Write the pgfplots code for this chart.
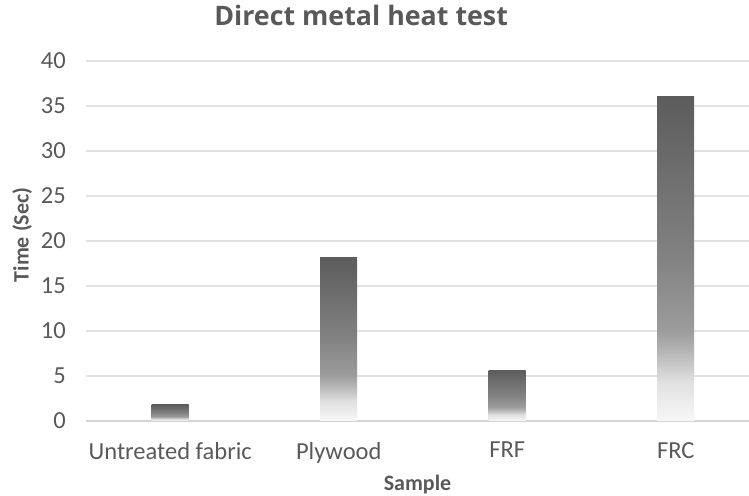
\documentclass[border=0pt]{standalone}
\usepackage{pgfplots}
\pgfplotsset{compat=1.18}
\usepackage{fontspec}
\setmainfont{Carlito}
\newfontfamily\titlefont{Open Sans}
\definecolor{txt}{HTML}{595959}
\definecolor{gridc}{HTML}{E2E2E2}
\definecolor{basec}{HTML}{D4D4D4}
% bar fill: dark at the top, fading to white at the bottom
\pgfdeclareverticalshading{barfade}{100bp}{%
  rgb(0bp)=(0.97,0.97,0.97); rgb(25bp)=(0.97,0.97,0.97);
  rgb(31bp)=(0.88,0.88,0.88); rgb(36bp)=(0.70,0.70,0.70);
  rgb(39bp)=(0.61,0.61,0.61); rgb(50bp)=(0.51,0.51,0.51);
  rgb(75bp)=(0.36,0.36,0.36); rgb(100bp)=(0.36,0.36,0.36)}
\begin{document}
\begin{tikzpicture}
\useasboundingbox (0,0) rectangle (749pt,495pt);
\begin{axis}[
    at={(86pt,74pt)}, anchor=south west,
    scale only axis,
    width=663pt, height=360pt,
    ybar, bar width=37pt,
    xmin=-0.5, xmax=3.435,
    ymin=0, ymax=40,
    ytick={0,5,...,40},
    xtick={0,1,2,3},
    xticklabels={Untreated fabric, Plywood, FRF, FRC},
    major tick length=0pt,
    axis x line*=bottom, axis y line*=left,
    x axis line style={draw=basec, line width=1.3pt},
    y axis line style={draw=none},
    ymajorgrids,
    major grid style={draw=gridc, line width=1.2pt},
    tick label style={font=\fontsize{24.5}{27}\selectfont, text=txt},
    xticklabel style={inner sep=0pt, anchor=north, yshift=-21pt},
    yticklabel style={inner sep=0pt, anchor=east, xshift=-20pt},
    /pgf/number format/assume math mode=true,
    title={Direct metal heat test},
    title style={font=\titlefont\bfseries\fontsize{26.8}{30}\selectfont, text=txt,
        at={(axis description cs:0.415,1)}, anchor=base, yshift=29pt},
    xlabel={Sample},
    ylabel={Time (Sec)},
    xlabel style={font=\bfseries\fontsize{22}{24}\selectfont, text=txt,
        at={(axis description cs:0.5,0)}, anchor=north, inner sep=0pt, yshift=-54pt},
    ylabel style={font=\bfseries\fontsize{22}{24}\selectfont, text=txt,
        at={(axis description cs:-0.0965,0.517)}, anchor=center, inner sep=0pt},
    every axis plot/.append style={draw=none, shading=barfade, bar shift=0pt},
]
% one plot per bar so that each bar gets its own gradient
\addplot coordinates {(0,1.8)};
\addplot coordinates {(1,18.2)};
\addplot coordinates {(2,5.65)};
\addplot coordinates {(3,36.1)};
\end{axis}
\end{tikzpicture}
\end{document}
